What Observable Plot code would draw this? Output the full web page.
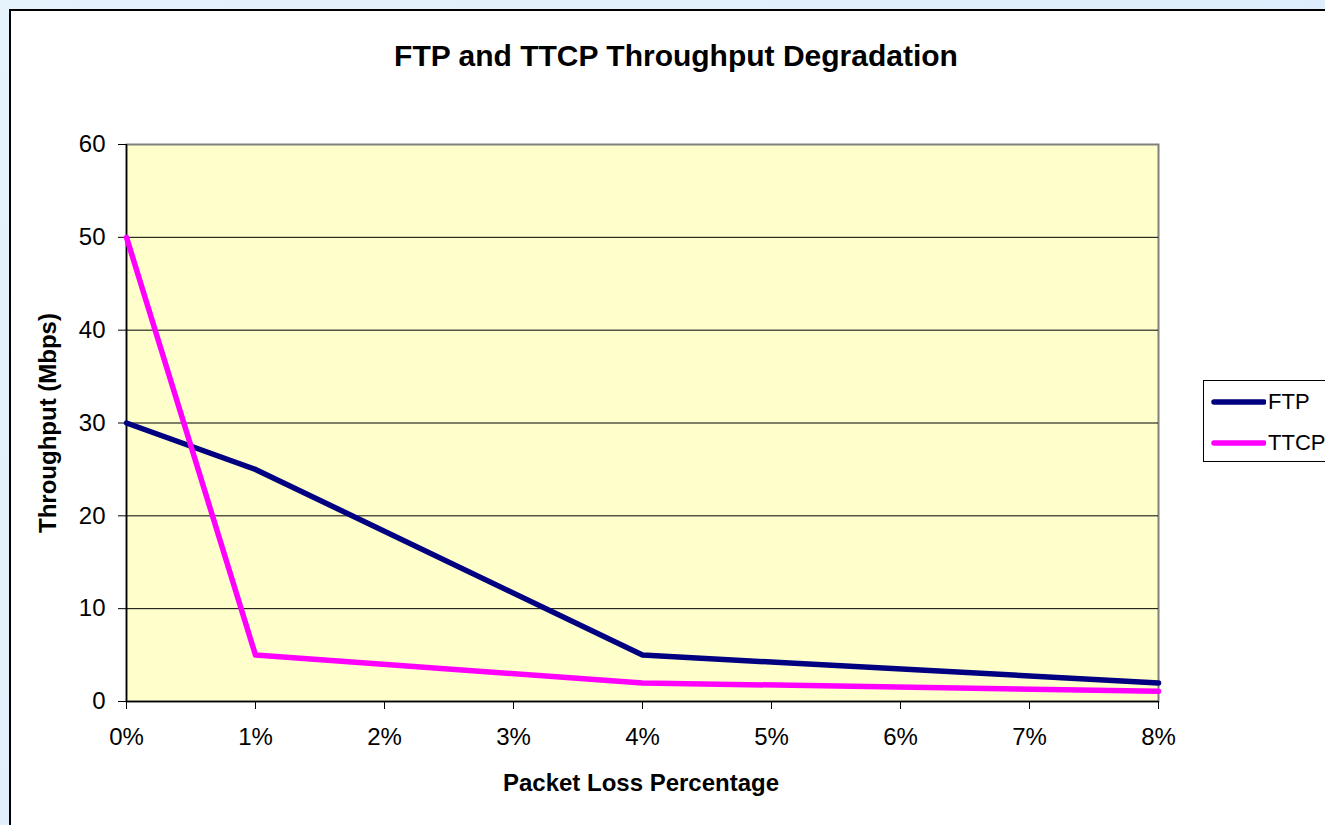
<!DOCTYPE html>
<html>
<head>
<meta charset="utf-8">
<script src="https://cdn.jsdelivr.net/npm/d3@7"></script>
<script src="https://cdn.jsdelivr.net/npm/@observablehq/plot@0.6"></script>
<style>
  html, body { margin: 0; padding: 0; }
  body { width: 1325px; height: 825px; overflow: hidden; position: relative;
         background: linear-gradient(135deg, #e6f2fc 0%, #d8ebfb 100%);
         font-family: "Liberation Sans", Arial, sans-serif; }
  #sheet { position: absolute; left: 9px; top: 9px; width: 1400px; height: 900px;
           background: #ffffff; border: 2px solid #000; box-sizing: border-box; }
  #chart { position: absolute; left: 0; top: 0; }
  .title { position: absolute; left: 0; width: 1352px; top: 38px; text-align: center;
           font-weight: bold; font-size: 30px; color: #000; white-space: nowrap; line-height: 36px; }
  .xtitle { position: absolute; left: 0; width: 1282px; top: 769px; text-align: center;
            font-weight: bold; font-size: 24px; color: #000; white-space: nowrap; line-height: 28px; }
  .ytitle { position: absolute; left: 48px; top: 423px; transform: translate(-50%, -50%) rotate(-90deg);
            font-weight: bold; font-size: 24px; color: #000; white-space: nowrap; line-height: 28px; }
  #legend { position: absolute; left: 1203px; top: 380px; width: 140px; height: 82px;
            border: 1px solid #000; background: #fff; box-sizing: border-box; }
  .li { position: absolute; left: 6px; height: 30px; display: flex; align-items: center;
        font-size: 22px; color: #000; }
  .li svg { margin-right: 2px; }
</style>
</head>
<body>
<div id="sheet"></div>
<div id="chart"></div>
<div class="title">FTP and TTCP Throughput Degradation</div>
<div class="xtitle">Packet Loss Percentage</div>
<div class="ytitle">Throughput (Mbps)</div>
<div id="legend"></div>
<script>
// ---- data ----
const lossPct = [0, 1, 4, 8];            // packet loss (%)
const ftpMbps = [30, 25, 5, 2];          // FTP throughput
const ttcpMbps = [50, 5, 2, 1.1];        // TTCP throughput
const seriesNames = ["FTP", "TTCP"];
const seriesColors = ["#000080", "#ff00ff"];
const xTicks = [0, 1, 2, 3, 4, 5, 6, 7, 8];
const yTicks = [0, 10, 20, 30, 40, 50, 60];

const rows = [];
lossPct.forEach((x, i) => rows.push({series: "FTP", x, y: ftpMbps[i]}));
lossPct.forEach((x, i) => rows.push({series: "TTCP", x, y: ttcpMbps[i]}));

const chart = Plot.plot({
  width: 1325,
  height: 825,
  marginLeft: 126,
  marginRight: 167,
  marginTop: 144,
  marginBottom: 124,
  style: {background: "transparent", fontFamily: "Liberation Sans, Arial, sans-serif", fontSize: "24px", color: "#000"},
  x: {domain: [0, 8], ticks: xTicks, tickFormat: d => d + "%"},
  y: {domain: [0, 60], ticks: yTicks},
  color: {domain: seriesNames, range: seriesColors},
  marks: [
    Plot.frame({fill: "#ffffcc", stroke: "#808080", strokeWidth: 2}),
    Plot.ruleY(yTicks.filter(d => d > 0 && d < 60), {stroke: "#000", strokeWidth: 1}),
    Plot.axisY({ticks: yTicks, tickSize: 8, tickPadding: 13, label: null, fontSize: 24}),
    Plot.axisX({ticks: xTicks, tickSize: 8, tickPadding: 18, label: null, fontSize: 24, tickFormat: d => d + "%"}),
    Plot.ruleX([0], {stroke: "#000", strokeWidth: 1.5}),
    Plot.ruleY([0], {stroke: "#000", strokeWidth: 1.5}),
    Plot.line(rows, {x: "x", y: "y", z: "series", stroke: "series", strokeWidth: 5.5,
                     strokeLinecap: "round", strokeLinejoin: "round"})
  ]
});
document.getElementById("chart").appendChild(chart);

// legend
const legend = document.getElementById("legend");
seriesNames.forEach((name, i) => {
  const item = document.createElement("div");
  item.className = "li";
  item.style.top = (6 + i * 41) + "px";
  item.innerHTML = `<svg width="56" height="10"><line x1="4" y1="5" x2="54" y2="5" stroke="${seriesColors[i]}" stroke-width="5.5" stroke-linecap="round"/></svg>${name}`;
  legend.appendChild(item);
});
</script>
</body>
</html>
